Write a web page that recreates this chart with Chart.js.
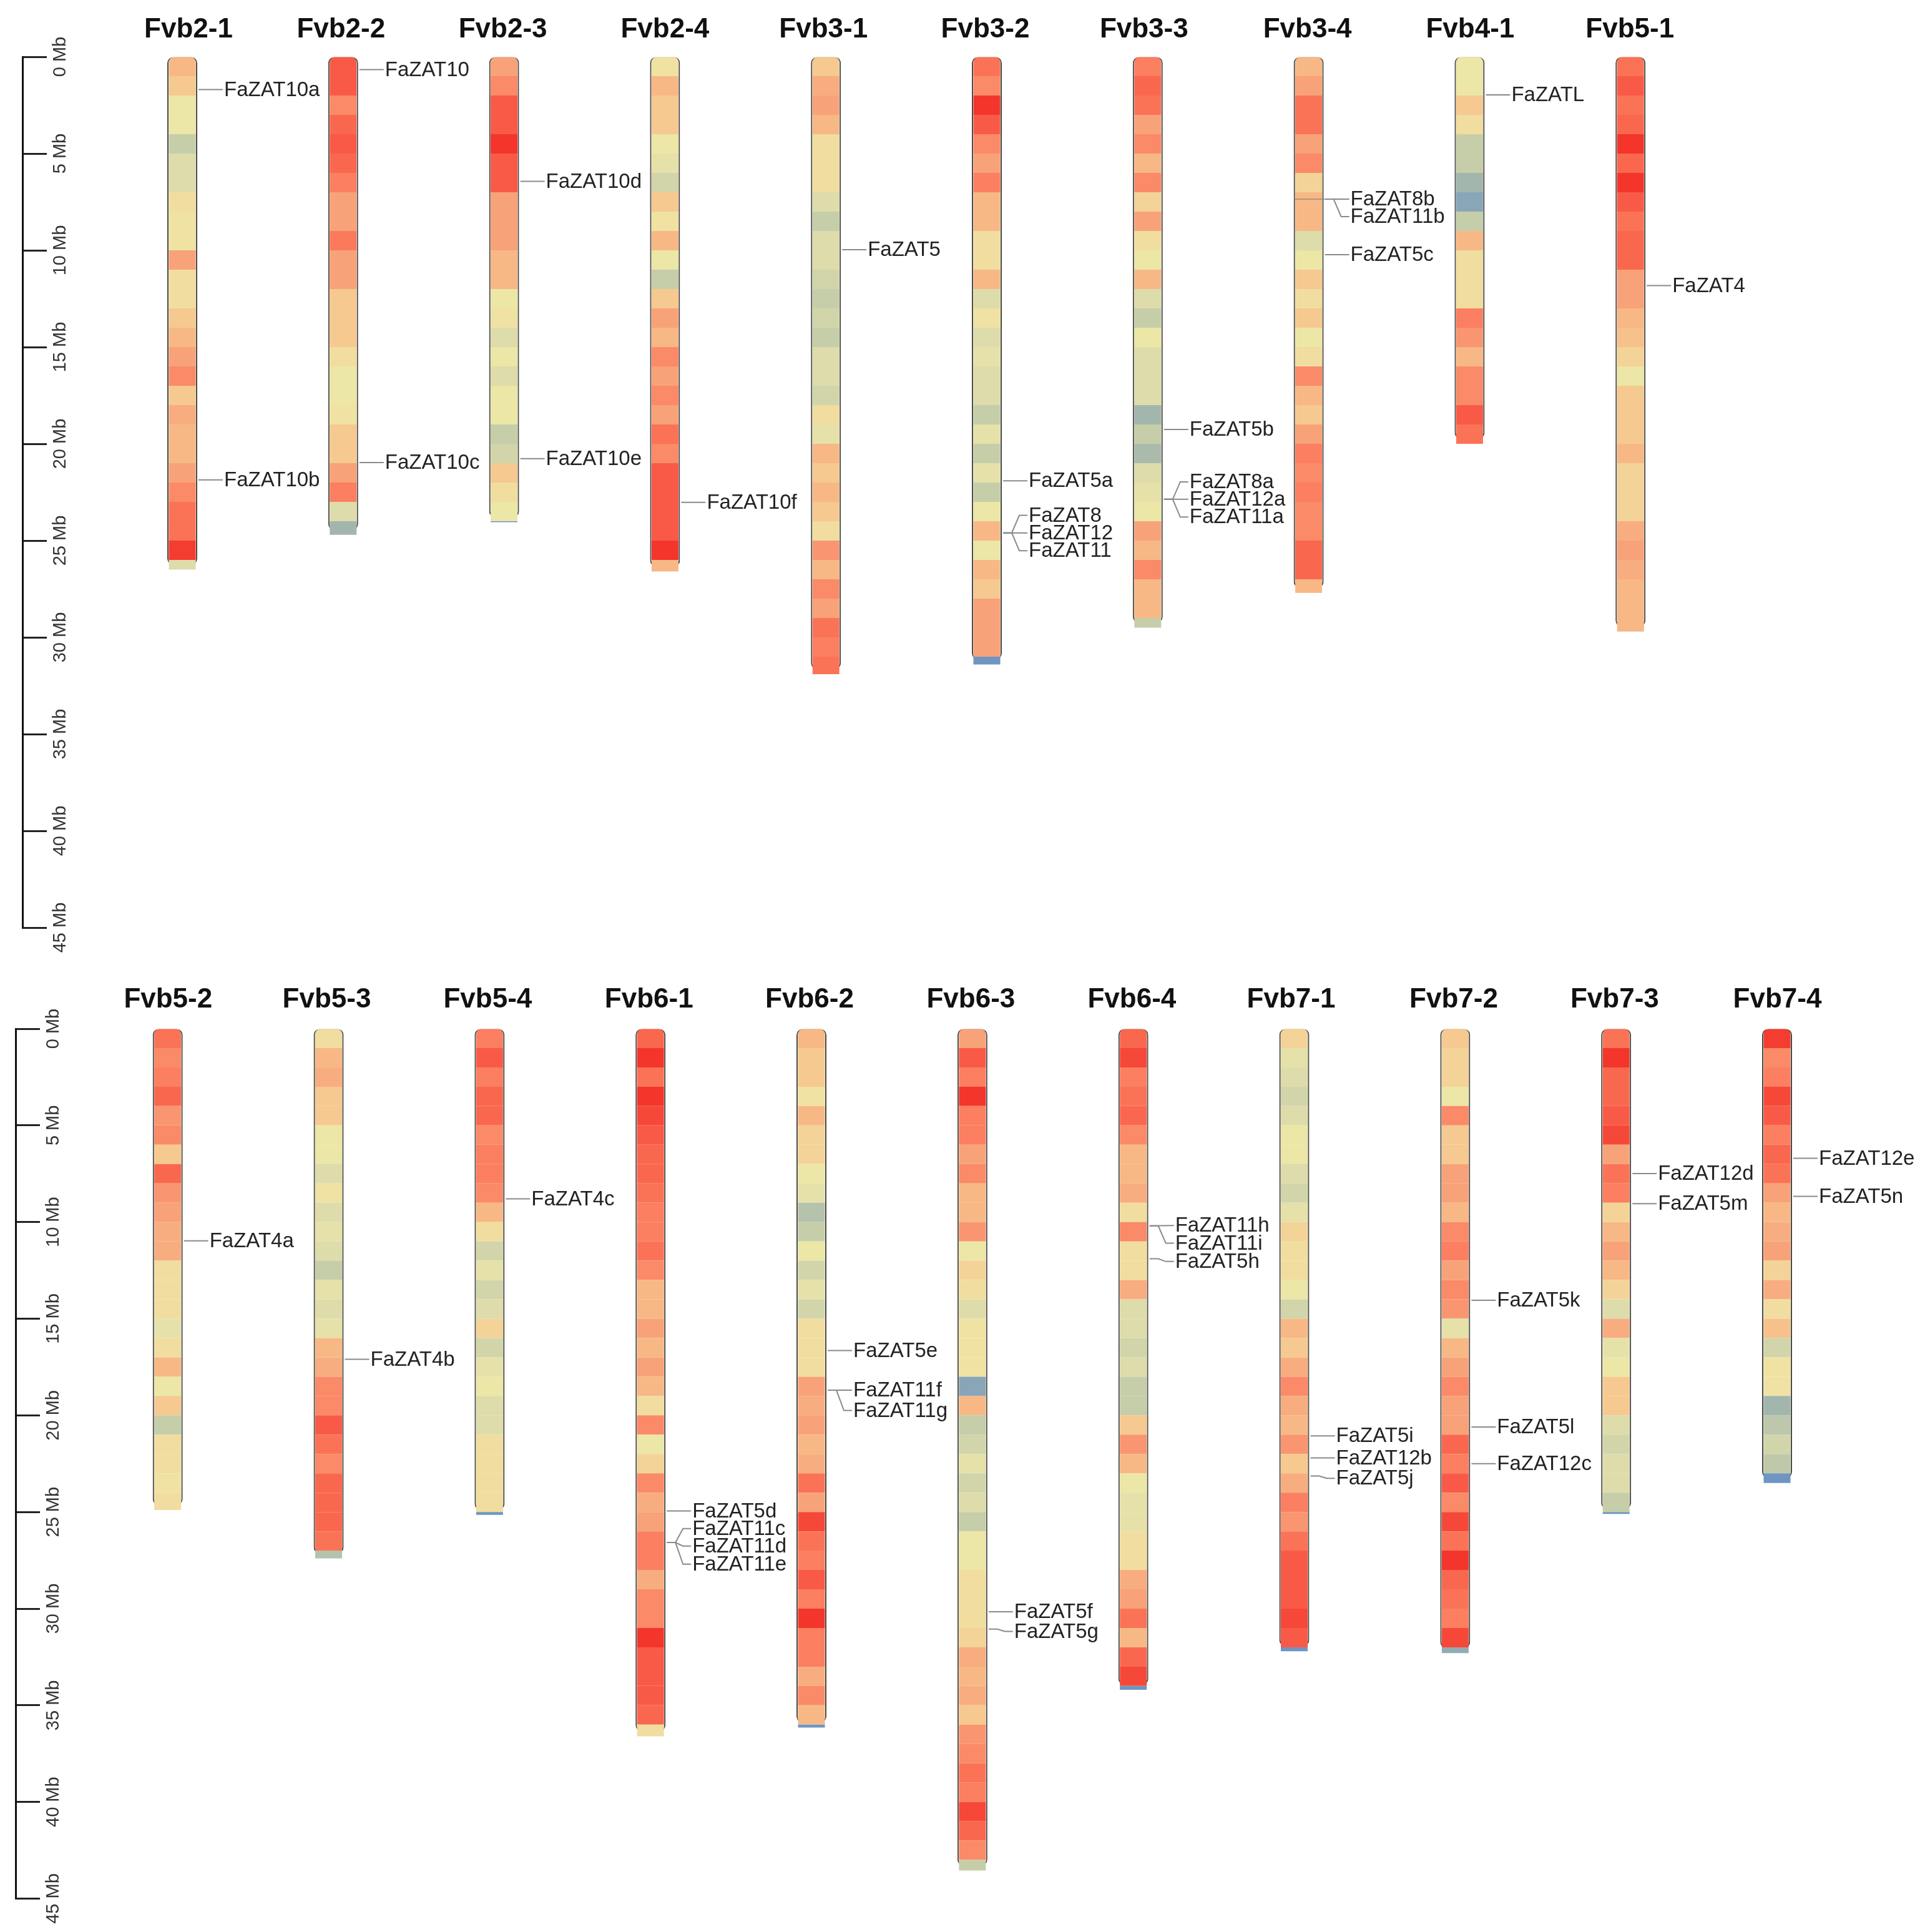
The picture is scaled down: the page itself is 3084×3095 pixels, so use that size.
<!DOCTYPE html>
<html>
<head>
<meta charset="utf-8">
<title>FaZAT chromosome map</title>
<script src="https://cdn.jsdelivr.net/npm/chart.js@4"></script>
<style>
  html, body { margin: 0; padding: 0; background: #fff; }
  canvas { display: block; }
</style>
</head>
<body>
<canvas id="topChart" width="3084" height="1560"></canvas>
<canvas id="bottomChart" width="3084" height="1535"></canvas>
<script>
// density level per 1 Mb bin (0 = sparse/blue, 12 = dense/red)
const fvb2_1 = [7,6,4,4,2,3,3,5,4.5,4.5,8,5,5,6,7,8,9,6,7.5,7,7,8,9,10,10,11.8,3];
const fvb2_2 = [11,11,9,10.5,11,10.5,9.5,8,8,9.7,8,8,6,6,6,5,4,4,4.5,6,6,8,9.5,3,1];
const fvb2_3 = [8,9,11,11,12,11,11,8,8,8,7,7,4,4.5,3,4,3,4,4,2,2.5,6,5,4,0];
const fvb2_4 = [4.5,7,6,6,4,3.5,2.5,6,4.5,7,4,2,6,8,7,9,8,9,8,10,9,11,11,11,11,12,7];
const fvb3_1 = [6,7.5,8,7,5,5,5,3,2,3,3,2.5,2,2.5,2,3,3,2.5,5,3.5,7,6,7,6,5,8.5,7,9,8,10,9.5,10];
const fvb3_2 = [10,9,12,11,9,8,9.5,7,7,5,5,7,3,4.5,3,3.5,3,3,2,3.5,2,3.5,2,4,7,4,7,6,8,8,8,0];
const fvb3_3 = [9.5,10.5,10,8,9,7,9,5.5,8,5,4,7,3,2,4,3,3,3,1,2,1.2,3,3.5,4,8,7,9,7,7,2];
const fvb3_4 = [7,8,10,10,8,9,5.5,7,7,3,4,6,5,6,4,5,9,7,6,8,9.5,9,9.5,9,9,10.5,10.5,7];
const fvb4_1 = [4,4,6,5,2,2,1,0.5,2,7,5,5,5,9.5,8.5,7,9,9,11,10];
const fvb5_1 = [10,11,10,10.5,12,10.5,12,11,10,10.5,10.5,8,8,7,6.5,5.5,4,6,6,6,7,5.5,5.5,5.5,7.5,8,7.5,7,7,7];
const fvb5_2 = [10,9,9.5,10.5,8.5,9,6,10.5,8.5,8,7.5,7.5,5,5,5,3.5,5,7,4,6,2,5,5,4.5,5];
const fvb5_3 = [5,7,7.5,6,6,4,4,3,4.5,3,3.5,3,2,3.5,3,3.5,7,7.5,9,9,11,10,9,10.5,10.5,10.5,10,1.5];
const fvb5_4 = [9.5,11,9.5,10.5,10.5,9,9.5,9.5,9,7,5,2.5,3.5,2.5,3,5.5,2.5,3.5,4,3,3,5,5,5,5,0];
const fvb6_1 = [10.5,12,10,12,11.5,11,10.5,10.5,10,9.5,9.5,10,9,7,7,8,7,8,7,5,9,4,5.5,9,7.5,8,9.5,9.5,7.5,9,9,12,11,11,11,10.5,5];
const fvb6_2 = [7,6,6,4.5,7,5.5,5.5,4,3.5,1.5,2,4,2.5,3.5,2.5,5,5,5,8,7.5,8,7,7.5,10,8,11.5,10,9.5,11,9.5,12,9.5,9.5,7.5,9,7,0];
const fvb6_3 = [8,11,9.5,12,9.5,9.5,8,9,7,7,8.5,4,5.5,5,3,4.5,4.5,4.5,0.5,7,2,2.5,3.5,2.5,3,2,4,4,5,5,5,5.5,7.5,7,7.5,6,8.5,9,10,9.5,11.5,10.5,9,2];
const fvb6_4 = [10.5,11.5,9.5,10,10.5,9,7,7,7.5,5,9,5,5,7.5,3,3,2.5,3,2,2,6,8.5,7,4,3.5,3.5,5,5,7.5,8,10,7,10.5,11.5,0];
const fvb7_1 = [5.5,3.5,3,2.5,3,4,4,3,2.5,3.5,5.5,5,5,4,2.5,7,6,7.5,9,7.5,7,8.5,6,7.5,9.5,8.5,10,11,11,11,11.5,11,0];
const fvb7_2 = [6,5.5,5.5,4,9,6,6,8,8,7,9,9.5,8,9,8.5,3.5,7,8,9,8,8,10.5,9.5,11,9,11.5,10,12,10.5,10,9.5,11.5,0.7];
const fvb7_3 = [10,12,10.5,10.5,11,11.5,8,10,9.5,5.5,7,8,7,5.5,3,7.5,3.5,4,6,6,3,2.5,3,3,2,0];
const fvb7_4 = [11.8,9,9.5,11.5,11,9.5,10.5,10,8,7,7.5,8,5.5,7.5,5,6.5,2.5,4.5,4.5,1,1.7,2.5,1.8,0];

const topNames = ['Fvb2-1','Fvb2-2','Fvb2-3','Fvb2-4','Fvb3-1','Fvb3-2','Fvb3-3','Fvb3-4','Fvb4-1','Fvb5-1'];
const topBins = [fvb2_1,fvb2_2,fvb2_3,fvb2_4,fvb3_1,fvb3_2,fvb3_3,fvb3_4,fvb4_1,fvb5_1];
const topLengths = [26.5,24.7,24.05,26.6,31.9,31.4,29.5,27.7,20,29.7];

const bottomNames = ['Fvb5-2','Fvb5-3','Fvb5-4','Fvb6-1','Fvb6-2','Fvb6-3','Fvb6-4','Fvb7-1','Fvb7-2','Fvb7-3','Fvb7-4'];
const bottomBins = [fvb5_2,fvb5_3,fvb5_4,fvb6_1,fvb6_2,fvb6_3,fvb6_4,fvb7_1,fvb7_2,fvb7_3,fvb7_4];
const bottomLengths = [24.9,27.4,25.15,36.6,36.15,43.55,34.2,32.2,32.3,25.1,23.5];

const axisTicks = [0,5,10,15,20,25,30,35,40,45];

// genes: name, chromosome index, position on chromosome (Mb), label position (Mb)
const topGenes = ['FaZAT10a','FaZAT10b','FaZAT10','FaZAT10c','FaZAT10d','FaZAT10e','FaZAT10f','FaZAT5','FaZAT5a','FaZAT8','FaZAT12','FaZAT11','FaZAT5b','FaZAT8a','FaZAT12a','FaZAT11a','FaZAT8b','FaZAT11b','FaZAT5c','FaZATL','FaZAT4'];
const topGeneChrom = [0,0,1,1,2,2,3,4,5,5,5,5,6,6,6,6,7,7,7,8,9];
const topGenePos = [1.63,21.8,0.6,20.9,6.37,20.7,22.96,9.9,21.85,24.54,24.54,24.54,19.19,22.8,22.8,22.8,7.29,7.29,10.16,1.9,11.76];
const topLabelPos = [1.63,21.8,0.6,20.9,6.37,20.7,22.96,9.9,21.85,23.63,24.54,25.46,19.19,21.9,22.8,23.72,7.29,8.19,10.16,1.9,11.76];

const bottomGenes = ['FaZAT4a','FaZAT4b','FaZAT4c','FaZAT5d','FaZAT11c','FaZAT11d','FaZAT11e','FaZAT5e','FaZAT11f','FaZAT11g','FaZAT5f','FaZAT5g','FaZAT11h','FaZAT11i','FaZAT5h','FaZAT5i','FaZAT12b','FaZAT5j','FaZAT5k','FaZAT5l','FaZAT12c','FaZAT12d','FaZAT5m','FaZAT12e','FaZAT5n'];
const bottomGeneChrom = [0,1,2,3,3,3,3,4,4,4,5,5,6,6,6,7,7,7,8,8,8,9,9,10,10];
const bottomGenePos = [10.97,17.1,8.8,24.95,26.58,26.58,26.58,16.65,18.7,18.7,30.16,31.06,10.2,10.2,11.9,21.06,22.2,23.14,14.05,20.6,22.5,7.49,9.05,6.7,8.67];
const bottomLabelPos = [10.97,17.1,8.8,24.95,25.86,26.76,27.7,16.65,18.7,19.75,30.16,31.18,10.18,11.09,12.04,21.06,22.2,23.26,14.05,20.6,22.5,7.49,9.05,6.7,8.67];

// colour ramp for the density levels
const ramp = ['#6f96c2','#a3b6ae','#c6cea9','#dddcaa','#ece6a7','#f1dd9f','#f5c990','#f7b886','#f8a27a','#fa8a68','#fb7357','#f95a47','#f3352b'];

function levelColor(level) {
  const lo = Math.floor(level), hi = Math.min(lo + 1, ramp.length - 1), t = level - lo;
  const rgb = c => [1, 3, 5].map(i => parseInt(c.substr(i, 2), 16));
  const a = rgb(ramp[lo]), b = rgb(ramp[hi]);
  return 'rgb(' + a.map((v, i) => Math.round(v + (b[i] - v) * t)).join(',') + ')';
}

// leader lines and gene names, placed through the chart's scales
const geneLabels = {
  id: 'geneLabels',
  afterDatasetsDraw(chart, args, opts) {
    const { ctx, scales } = chart;
    ctx.save();
    ctx.font = '33px "Liberation Sans"';
    ctx.textBaseline = 'middle';
    opts.names.forEach((name, i) => {
      const cx = scales.x.getPixelForValue(opts.chrom[i]);
      const my = scales.y.getPixelForValue(opts.pos[i]) + opts.nudge;
      const ly = scales.y.getPixelForValue(opts.label[i]) + opts.nudge;
      ctx.strokeStyle = '#8a8a8a';
      ctx.lineWidth = 2;
      ctx.beginPath();
      ctx.moveTo(cx + 26, my);
      if (Math.abs(my - ly) > 2) {
        ctx.lineTo(cx + 40, my);
        ctx.lineTo(cx + 52, ly);
      }
      ctx.lineTo(cx + 65, ly);
      ctx.stroke();
      if (name === 'FaZAT8b') {
        // this one also has a faint line across the chromosome
        ctx.strokeStyle = 'rgba(120,120,120,0.55)';
        ctx.beginPath();
        ctx.moveTo(cx - 22, my);
        ctx.lineTo(cx + 26, my);
        ctx.stroke();
      }
      ctx.fillStyle = '#222';
      ctx.fillText(name, cx + 67, ly + 1);
    });
    ctx.restore();
  }
};

function drawPanel(id, names, bins, lengths, genes, titleShift, layout) {
  const step = layout.step;
  const toValue = px => (px - layout.first) / step;
  const binPoints = [], binColors = [];
  bins.forEach((levels, c) => {
    levels.forEach((level, b) => {
      binPoints.push({ x: c, y: [b, Math.min(b + 1, lengths[c])] });
      binColors.push(levelColor(level));
    });
  });
  // the outline stops a little short of the last bin
  const framePoints = lengths.map((len, c) => ({ x: c, y: [0, len - 0.27] }));

  return new Chart(document.getElementById(id), {
    type: 'bar',
    data: {
      datasets: [
        {
          data: binPoints,
          backgroundColor: binColors,
          grouped: false,
          maxBarThickness: 43,
          borderRadius: c => (c.raw && c.raw.y[0] === 0 ? { topLeft: 8, topRight: 8, bottomLeft: 0, bottomRight: 0 } : 0),
          borderSkipped: false
        },
        {
          data: framePoints,
          backgroundColor: 'rgba(0,0,0,0)',
          borderColor: '#4a4a44',
          borderWidth: 2,
          borderSkipped: false,
          grouped: false,
          maxBarThickness: 48,
          borderRadius: 9
        }
      ]
    },
    options: {
      responsive: false,
      animation: false,
      devicePixelRatio: 1,
      layout: { padding: { bottom: layout.bottomPad } },
      plugins: {
        legend: { display: false },
        tooltip: { enabled: false },
        geneLabels: { names: genes.names, chrom: genes.chrom, pos: genes.pos, label: genes.label, nudge: layout.geneNudge }
      },
      scales: {
        x: {
          type: 'linear',
          position: 'top',
          offset: false,
          min: toValue(layout.axisX),
          max: toValue(3084),
          grid: { display: false, drawTicks: false, offset: false },
          border: { display: false },
          afterBuildTicks: s => { s.ticks = names.map((n, i) => ({ value: i + titleShift[i] / step })); },
          afterFit: s => { s.height = layout.top; },
          ticks: {
            autoSkip: false,
            maxRotation: 0,
            minRotation: 0,
            padding: layout.titlePad,
            color: '#111',
            font: { family: '"Liberation Sans"', size: 44, weight: 'bold' },
            callback: (v, i) => names[i]
          }
        },
        y: {
          position: 'left',
          reverse: true,
          min: 0,
          max: 45,
          afterBuildTicks: s => { s.ticks = axisTicks.map(v => ({ value: v })); },
          afterFit: s => {
            s.width = layout.axisX;
            // the labels sit right of the axis line, so the box must not clip them
            s._computeLabelArea = () => undefined;
          },
          grid: { drawOnChartArea: false, tickLength: -39, tickWidth: 3, tickColor: '#222' },
          border: { display: true, color: '#111', width: 3 },
          ticks: {
            autoSkip: false,
            minRotation: 90,
            maxRotation: 90,
            crossAlign: 'center',
            padding: -62,
            color: '#333',
            font: { family: '"Liberation Sans"', size: 29 },
            callback: v => v + ' Mb'
          }
        }
      }
    },
    plugins: [geneLabels]
  });
}

drawPanel('topChart', topNames, topBins, topLengths,
  { names: topGenes, chrom: topGeneChrom, pos: topGenePos, label: topLabelPos },
  [10,-3.5,-2,0,-4,-2.5,-6,-2,1,-1],
  { first: 292, step: 257.8, axisX: 36, top: 91, bottomPad: 74, titlePad: 17, geneNudge: 2 });

drawPanel('bottomChart', bottomNames, bottomBins, bottomLengths,
  { names: bottomGenes, chrom: bottomGeneChrom, pos: bottomGenePos, label: bottomLabelPos },
  [0.6,-3,-3,-2.5,-3,-2.5,-2.3,-5,-2.4,-2.3,0.5],
  { first: 268.7, step: 257.83, axisX: 25, top: 88, bottomPad: 53.5, titlePad: 20, geneNudge: 0 });
</script>
</body>
</html>
